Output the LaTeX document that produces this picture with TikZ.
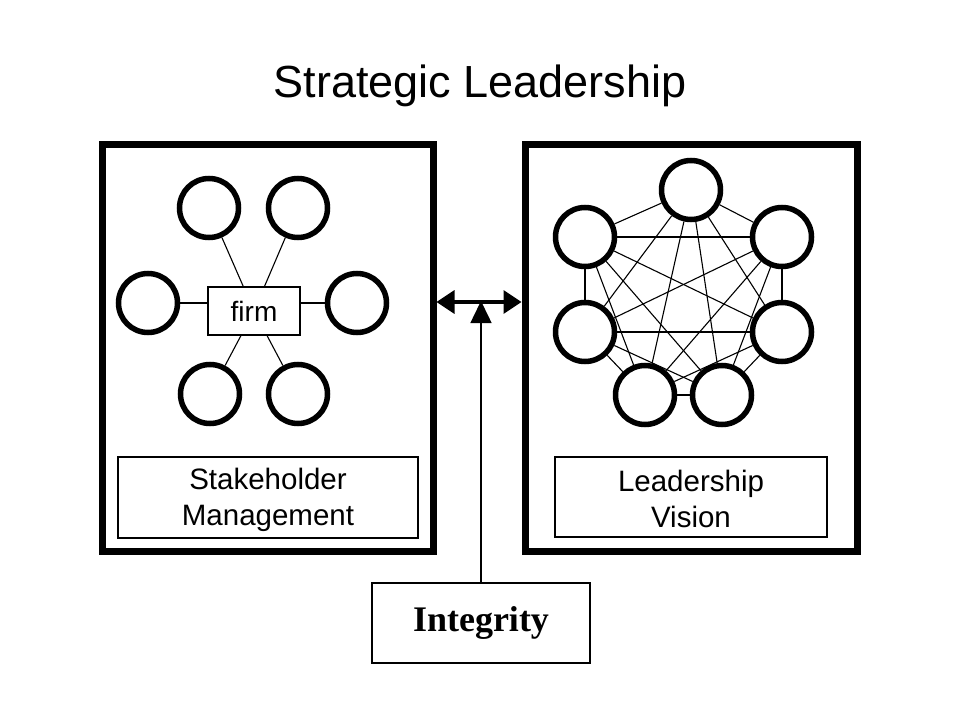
\documentclass[tikz,border=0pt]{standalone}
\usepackage{fontspec}
\setmainfont{Liberation Sans}
\newfontfamily\serifbold{Liberation Serif}
\usetikzlibrary{arrows.meta}
\tikzset{
  bigbox/.style={draw, line width=7bp, minimum width=#1, minimum height=406bp, inner sep=0pt},
  ring/.style={circle, draw, fill=white, line width=5.5bp, minimum size=59bp, inner sep=0pt},
  thinline/.style={line width=1.1bp},
  labelbox/.style={draw, line width=1.2bp, inner sep=0pt, align=center, font=\fontsize{29.5bp}{36bp}\selectfont},
}
\begin{document}
\begin{tikzpicture}[x=1bp,y=-1bp]
\useasboundingbox (0,0) rectangle (960,720);
\fill[white] (0,0) rectangle (960,720);

\node[anchor=base, font=\fontsize{45bp}{50bp}\selectfont] (title) at (480,98) {Strategic Leadership};

\node[bigbox=330bp] (lbox) at (268,348) {};
\node[bigbox=332bp] (rbox) at (691,348) {};

% left: stakeholder network
\node[draw, line width=1.2bp, minimum width=92bp, minimum height=48bp, inner sep=0pt,
      font=\fontsize{28bp}{32bp}\selectfont] (firm) at (254,311) {firm};
\node[ring] (c1) at (209,208) {};
\node[ring] (c2) at (298,208) {};
\node[ring] (c3) at (148,303) {};
\node[ring] (c4) at (357,303) {};
\node[ring] (c5) at (210,394) {};
\node[ring] (c6) at (298,394) {};
\draw[thinline] (c1) -- (firm);
\draw[thinline] (c2) -- (firm);
\draw[thinline] (c5) -- (firm);
\draw[thinline] (c6) -- (firm);
\draw[thinline] (c3) -- (c3 -| firm.west);
\draw[thinline] (c4) -- (c4 -| firm.east);

\node[labelbox, minimum width=300bp, minimum height=81bp] (stake) at (268,497.5) {};
\node[align=center, font=\fontsize{29.5bp}{36bp}\selectfont, inner sep=0pt] at ([yshift=-2.5bp]stake.center) {Stakeholder\\Management};

% right: complete network
\node[ring] (n1) at (691,190) {};
\node[ring] (n2) at (585,237) {};
\node[ring] (n3) at (782,237) {};
\node[ring] (n4) at (585,332) {};
\node[ring] (n5) at (782,332) {};
\node[ring] (n6) at (645,395) {};
\node[ring] (n7) at (722,395) {};
\foreach \a/\b in {n1/n2,n1/n3,n1/n4,n1/n5,n1/n6,n1/n7,
                   n2/n3,n2/n4,n2/n5,n2/n6,n2/n7,
                   n3/n4,n3/n5,n3/n6,n3/n7,
                   n4/n5,n4/n6,n4/n7,
                   n5/n6,n5/n7,
                   n6/n7}
  \draw[thinline] (\a) -- (\b);

\node[labelbox, minimum width=272bp, minimum height=80bp] (vision) at (691,497) {};
\node[align=center, font=\fontsize{29.5bp}{36bp}\selectfont, inner sep=0pt] at ([yshift=-1.5bp]vision.center) {Leadership\\Vision};

% integrity
\node[draw, line width=1.5bp, minimum width=218bp, minimum height=80bp, inner sep=0pt,
      font=\serifbold\bfseries\fontsize{36bp}{40bp}\selectfont] (integ) at (481,623) {Integrity};

\coordinate (ay) at (481,302);
\draw[line width=3.5bp, {Triangle[length=18bp,width=23bp]}-{Triangle[length=18bp,width=23bp]}]
  (ay -| lbox.east) -- (ay -| rbox.west);
\draw[line width=1.5bp, -{Triangle[length=22bp,width=21bp]}] (integ.north) -- ([yshift=1bp]ay);
\end{tikzpicture}
\end{document}
